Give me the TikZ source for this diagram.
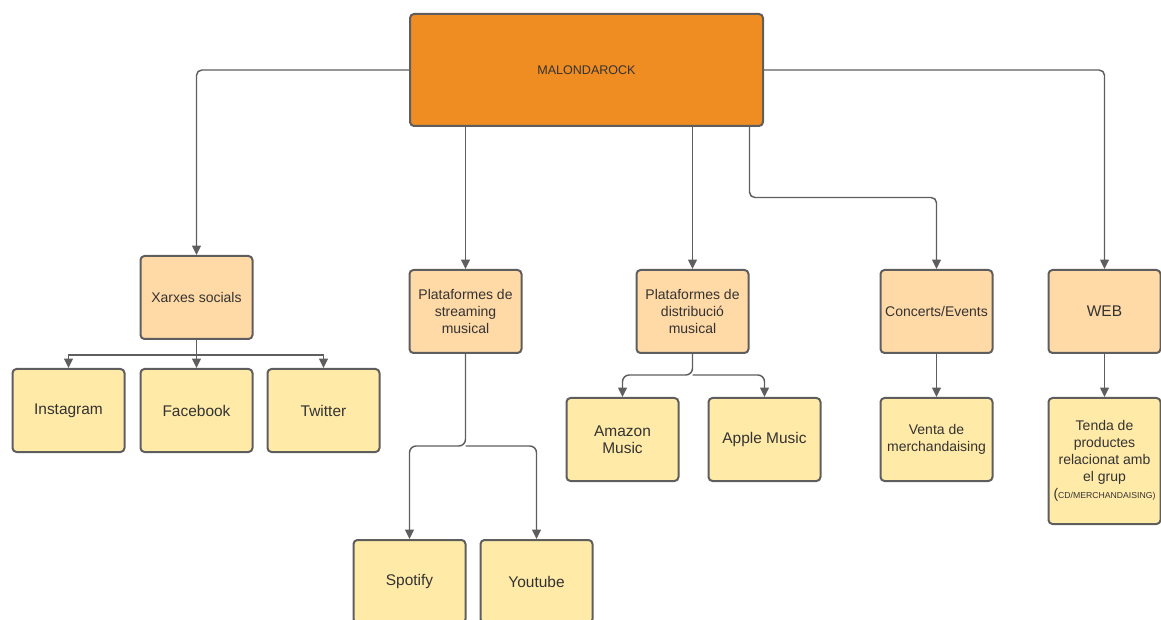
\documentclass[tikz,border=0pt]{standalone}
\usepackage{fontspec}
\setmainfont{Liberation Sans}
\usetikzlibrary{arrows.meta,calc}
\definecolor{lineC}{HTML}{5E5E5E}
\definecolor{orangeC}{HTML}{EF8C22}
\definecolor{peachC}{HTML}{FFD9A6}
\definecolor{leafC}{HTML}{FFEAA7}
\definecolor{textC}{HTML}{333333}
\begin{document}
\begin{tikzpicture}[x=0.75pt,y=-0.75pt,
 box/.style={draw=lineC,line width=1.5pt,rounded corners=3pt,align=center,text=textC,inner sep=1pt},
 mainbox/.style={box,fill=orangeC,minimum width=264.75pt,minimum height=84pt,font=\fontsize{9.4}{11}\selectfont},
 catbox/.style={box,fill=peachC,minimum width=84pt,minimum height=62.25pt,font=\fontsize{10.5}{12.75}\selectfont},
 leafbox/.style={box,fill=leafC,minimum width=84pt,minimum height=62.25pt,font=\fontsize{11.6}{13}\selectfont},
 conn/.style={draw=lineC,line width=1.1pt,-{Triangle[length=7pt,width=6.5pt]}},
 ]
\path[use as bounding box] (0,0) rectangle (1161,620);
\clip (0,0) rectangle (1161,620);

\node[mainbox] (top) at (586.5,70) {MALONDAROCK};

\node[catbox] (xarx) at (196.5,297.5) {Xarxes socials};
\node[catbox] (strm) at (465.5,311.5) {Plataformes de\\streaming\\musical};
\node[catbox] (dist) at (692.5,311.5) {Plataformes de\\distribució\\musical};
\node[catbox] (conc) at (936.5,311.5) {Concerts/Events};
\node[catbox,font=\fontsize{11.6}{13}\selectfont] (web) at (1104.5,311.5) {WEB};

\node[leafbox] (insta) at (68.5,410.5) {Instagram};
\node[leafbox] (face) at (196.5,410.5) {Facebook};
\node[leafbox] (twit) at (323.5,410.5) {Twitter};
\node[leafbox] (spot) at (409.5,581.5) {Spotify};
\node[leafbox] (yout) at (536.5,581.5) {Youtube};
\node[leafbox] (amaz) at (622.5,439.5) {Amazon\\Music};
\node[leafbox] (appl) at (764.5,439.5) {Apple Music};
\node[leafbox,font=\fontsize{10.5}{12.75}\selectfont] (vent) at (936.5,439.5) {Venta de\\merchandaising};
\node[leafbox,minimum height=94.5pt,font=\fontsize{10.5}{12.75}\selectfont] (tend) at (1104.5,461) {Tenda de\\productes\\relacionat amb\\el grup\\({\fontsize{6.5}{8}\selectfont CD/MERCHANDAISING)}};

% top level connectors
\draw[conn,rounded corners=4pt] (top.west) -| (xarx.north);
\draw[conn,rounded corners=4pt] (top.east) -| (web.north);
\draw[conn] (strm.north |- top.south) -- (strm.north);
\draw[conn] (dist.north |- top.south) -- (dist.north);
\coordinate (cj) at (749.5,197.5);
\draw[conn,rounded corners=4pt] (cj |- top.south) -- (cj) -| (conc.north);

% Xarxes socials children
\coordinate (xj) at (196.5,355);
\draw[conn] (xarx.south) -- (xj) -| (insta.north);
\draw[conn] (xj) -- (face.north);
\draw[conn] (xj) -| (twit.north);

% streaming children
\coordinate (sj) at (465.5,446);
\draw[conn,rounded corners=5pt] (strm.south) -- (sj) -| (spot.north);
\draw[conn,rounded corners=5pt] (sj) -| (yout.north);

% distribution children
\coordinate (dj) at (692.5,375);
\draw[conn,rounded corners=5pt] (dist.south) -- (dj) -| (amaz.north);
\draw[conn,rounded corners=5pt] (dj) -| (appl.north);

% concerts and web
\draw[conn] (conc.south) -- (vent.north);
\draw[conn] (web.south) -- (tend.north);
\end{tikzpicture}
\end{document}
